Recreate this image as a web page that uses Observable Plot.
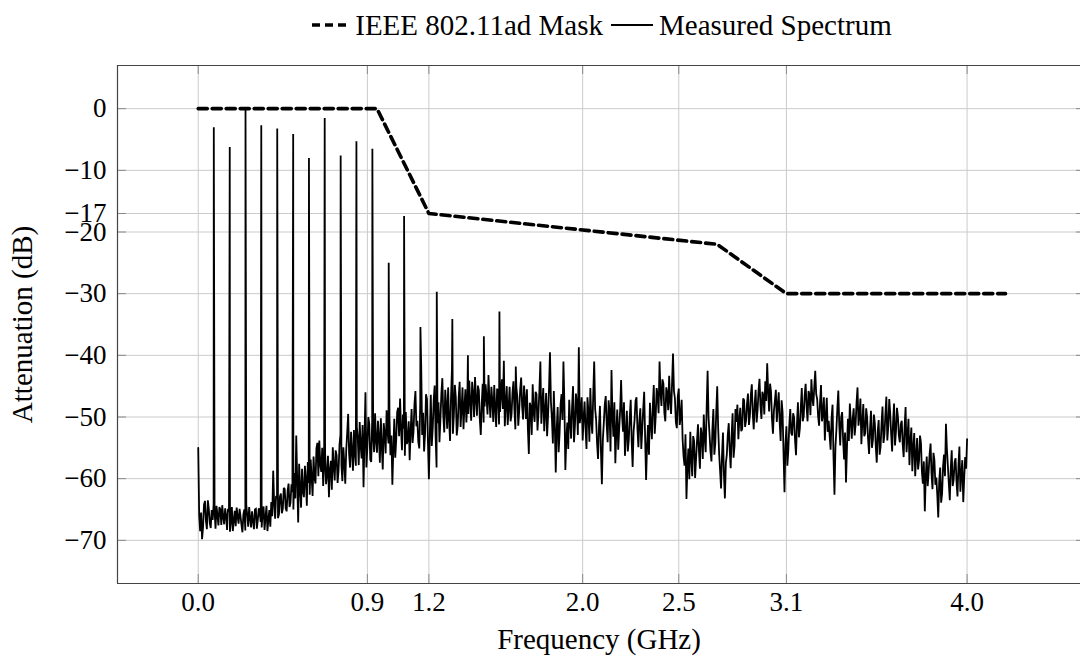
<!DOCTYPE html>
<html>
<head>
<meta charset="utf-8">
<script src="https://cdn.jsdelivr.net/npm/d3@7"></script>
<script src="https://cdn.jsdelivr.net/npm/@observablehq/plot@0.6"></script>
<style>
  html, body { margin: 0; padding: 0; background: #fff; overflow: hidden; }
  body { font-family: "Liberation Serif", "Times New Roman", serif; color: #000; }
  #legend { width: 1080px; height: 50px; box-sizing: border-box; padding-left: 124px;
            display: flex; align-items: center; justify-content: center; font-size: 29px; }
  #legend .item { display: flex; align-items: center; }
  #legend svg { display: block; }
  #chart svg { display: block; }
</style>
</head>
<body>
<div id="legend"></div>
<div id="chart"></div>
<script>
// ---------------- data ----------------
const seriesNames = ["IEEE 802.11ad Mask", "Measured Spectrum"];

// IEEE 802.11ad spectral mask (GHz, dB)
const maskFreq = [0, 0.93, 1.2, 2.7, 3.06, 4.2];
const maskDb   = [0, 0, -17, -22, -30, -30];

// measured spectrum, noise floor at 0.00, 0.01, ... 4.00 GHz
const spectrumStartGHz = 0;
const spectrumStepGHz = 0.01;
const spectrumDb = [
  -55.0, -68.5, -69.8, -64.2, -66.8, -63.5, -67.2, -65.1, -64.3, -68.1, -65.9, -64.6, -67.5, -66.2, -64.8, -68.3, -65.4, -66.9, -68.5, -65.2,
  -64.7, -67.3, -66.1, -68.7, -65.0, -64.2, -67.8, -66.4, -65.3, -68.2, -64.9, -66.7, -65.5, -67.9, -64.5, -66.3, -68.5, -65.1, -63.8, -58.7,
  -66.5, -63.2, -65.8, -62.4, -64.9, -61.7, -65.3, -60.8, -63.9, -62.2, -59.1, -53.0, -67.1, -61.5, -58.4, -63.0, -60.2, -57.3, -62.6, -59.8,
  -56.4, -60.8, -54.2, -53.8, -58.9, -61.2, -55.7, -59.4, -63.0, -57.1, -54.9, -60.3, -56.2, -58.7, -52.8, -60.4, -57.5, -55.3, -49.5, -58.2,
  -55.6, -52.1, -57.9, -53.4, -50.8, -56.7, -61.4, -46.0, -54.8, -51.2, -57.3, -52.6, -49.4, -55.8, -53.1, -50.2, -58.5, -52.7, -48.9, -54.3,
  -56.2, -61.0, -50.3, -53.7, -48.5, -47.0, -55.4, -51.9, -49.2, -53.8, -57.0, -48.7, -52.4, -45.8, -50.6, -55.1, -41.6, -49.3, -52.8, -47.1,
  -60.1, -46.4, -51.8, -44.9, -58.2, -47.6, -50.3, -43.7, -52.5, -48.1, -45.2, -53.9, -42.2, -49.6, -46.8, -51.4, -44.3, -48.7, -52.0, -45.5,
  -47.3, -44.1, -50.6, -46.2, -43.5, -49.8, -45.7, -52.9, -44.6, -48.3, -46.9, -43.2, -50.1, -47.4, -44.8, -51.6, -46.0, -49.2, -43.9, -40.9,
  -47.8, -51.3, -45.1, -49.6, -44.2, -52.0, -46.7, -48.9, -43.6, -50.4, -47.1, -45.5, -56.0, -48.3, -44.7, -50.8, -46.3, -49.4, -41.0, -47.9,
  -52.3, -46.1, -49.7, -39.5, -50.2, -45.8, -59.0, -48.4, -52.6, -46.3, -41.0, -58.6, -50.9, -47.2, -53.5, -45.0, -51.3, -48.0, -38.7, -49.6,
  -53.8, -47.5, -55.2, -49.1, -45.3, -52.7, -41.0, -50.4, -56.8, -48.2, -60.9, -51.0, -46.6, -54.1, -49.3, -42.4, -53.2, -57.5, -48.8, -51.9,
  -44.0, -52.4, -56.3, -49.0, -53.7, -47.2, -58.1, -50.5, -46.8, -54.9, -48.6, -52.0, -45.9, -60.2, -51.3, -47.7, -53.6, -44.8, -49.9, -46.5,
  -41.0, -48.2, -44.6, -50.7, -46.1, -43.3, -49.5, -39.7, -47.0, -51.8, -45.4, -49.9, -53.6, -57.9, -63.3, -55.1, -52.4, -59.6, -54.0, -56.8,
  -51.2, -58.4, -53.0, -49.6, -55.7, -42.5, -52.8, -57.2, -48.7, -54.3, -45.0, -55.9, -61.6, -52.5, -63.2, -56.1, -51.0, -58.3, -49.4, -54.7,
  -50.8, -53.6, -48.5, -51.9, -47.3, -50.6, -46.2, -49.8, -44.7, -52.0, -45.6, -48.9, -43.8, -50.3, -46.5, -44.2, -41.3, -49.1, -45.9, -52.7,
  -47.4, -50.8, -46.0, -53.9, -49.2, -62.2, -51.5, -55.4, -48.7, -53.0, -50.1, -56.2, -47.6, -51.8, -45.3, -49.9, -44.6, -50.7, -46.4, -43.9,
  -48.2, -42.5, -47.1, -51.4, -44.8, -49.5, -53.8, -46.9, -50.6, -55.3, -48.0, -62.6, -52.1, -45.7, -54.6, -49.2, -56.9, -60.6, -50.3, -47.8,
  -53.5, -48.6, -51.2, -45.2, -49.7, -54.4, -47.9, -52.6, -50.1, -56.0, -49.0, -53.7, -51.0, -57.4, -50.5, -54.8, -48.3, -52.9, -46.7, -51.5,
  -49.4, -55.6, -47.8, -52.3, -49.9, -54.1, -50.6, -56.5, -48.4, -53.2, -57.8, -51.7, -55.0, -59.6, -53.4, -57.1, -54.2, -60.8, -65.3, -56.4,
  -58.9, -54.3, -61.7, -57.0, -59.8, -66.3, -58.2, -62.4, -56.1, -51.1, -57.9, -63.5, -55.4, -60.2, -56.7, -62.9, -54.8, -59.3, -63.8, -56.5,
  -53.6
];
// measured spectrum, noise floor at the in-between frequencies 0.005, 0.015, ... 3.995 GHz
const spectrumMidDb = [
  -66.0, -65.5, -67.9, -63.6, -68.2, -64.9, -68.0, -66.7, -65.2, -64.4, -67.6, -65.0, -64.3, -67.4, -66.0, -64.9, -68.6, -64.6, -66.8, -67.7,
  -66.2, -64.9, -67.5, -65.8, -68.4, -66.0, -64.6, -67.9, -66.8, -65.0, -68.1, -64.8, -67.0, -65.6, -68.3, -64.4, -66.6, -67.8, -66.1, -64.0,
  -62.8, -66.4, -62.9, -65.6, -61.5, -64.8, -62.0, -64.6, -60.9, -65.0, -63.2, -60.4, -57.6, -64.7, -62.1, -57.9, -64.4, -60.7, -56.9, -62.8,
  -59.9, -55.1, -59.6, -57.7, -55.0, -57.4, -60.9, -56.3, -58.6, -61.8, -58.0, -55.4, -60.7, -54.5, -57.8, -54.9, -60.8, -52.6, -56.0, -52.4,
  -58.7, -55.9, -51.6, -57.8, -54.6, -51.3, -53.5, -58.2, -50.0, -56.9, -50.4, -55.7, -53.9, -50.6, -57.4, -54.8, -51.0, -55.9, -52.4, -50.1,
  -53.0, -55.3, -56.6, -49.2, -53.1, -51.8, -49.6, -56.3, -54.4, -50.7, -52.3, -54.2, -47.9, -51.5, -54.0, -47.8, -52.9, -55.6, -46.3, -53.9,
  -52.6, -54.7, -47.3, -53.2, -51.0, -54.1, -46.2, -49.8, -45.6, -51.9, -50.3, -47.0, -52.7, -44.8, -53.0, -46.9, -51.6, -45.2, -48.3, -50.9,
  -49.5, -47.6, -44.3, -50.0, -47.1, -44.9, -50.4, -47.8, -50.9, -44.7, -49.6, -47.3, -45.1, -50.8, -48.6, -45.4, -51.2, -46.5, -48.7, -51.5,
  -45.0, -48.4, -50.7, -46.0, -48.8, -45.2, -51.4, -45.5, -48.2, -44.9, -50.3, -51.9, -47.7, -52.9, -49.1, -45.9, -52.2, -45.6, -51.1, -45.3,
  -49.0, -53.1, -45.4, -47.6, -54.3, -51.2, -52.0, -55.7, -48.0, -50.5, -47.9, -53.6, -55.2, -50.8, -48.3, -54.1, -46.2, -52.9, -51.0, -46.8,
  -50.2, -51.9, -46.8, -54.0, -50.6, -46.4, -48.7, -54.3, -51.5, -55.4, -53.7, -48.0, -51.2, -47.3, -55.6, -49.9, -47.6, -52.4, -55.3, -48.9,
  -49.7, -47.6, -52.8, -55.6, -50.0, -53.9, -52.3, -47.4, -51.9, -50.6, -55.2, -48.7, -53.4, -54.6, -56.1, -51.0, -48.2, -52.7, -45.3, -49.4,
  -46.0, -43.9, -49.3, -45.2, -48.9, -47.4, -44.6, -45.8, -50.9, -46.6, -51.3, -47.2, -56.4, -52.8, -58.0, -60.1, -56.7, -53.1, -59.9, -53.8,
  -55.5, -51.7, -56.8, -53.4, -48.6, -50.1, -55.6, -52.0, -56.1, -49.2, -51.8, -58.7, -56.2, -59.4, -57.5, -52.9, -55.4, -53.0, -56.6, -48.7,
  -48.0, -50.4, -52.3, -47.0, -51.6, -47.9, -51.3, -46.4, -49.5, -47.8, -50.9, -45.7, -48.2, -45.9, -49.6, -47.4, -45.8, -44.6, -50.3, -49.0,
  -45.6, -48.1, -50.9, -47.3, -55.8, -54.6, -57.9, -51.3, -52.6, -49.4, -53.8, -51.0, -53.3, -48.4, -50.7, -46.5, -48.3, -45.8, -49.7, -46.9,
  -45.1, -46.3, -49.9, -47.6, -50.7, -46.8, -49.9, -52.4, -53.1, -50.2, -56.4, -54.9, -48.6, -51.3, -50.0, -53.7, -52.5, -55.1, -53.9, -50.7,
  -50.2, -53.0, -47.6, -51.4, -47.0, -50.8, -53.1, -48.6, -53.7, -51.9, -55.0, -49.6, -54.8, -52.3, -56.1, -51.0, -54.2, -49.5, -53.8, -47.1,
  -52.8, -50.7, -54.6, -48.5, -53.0, -51.2, -54.4, -51.6, -55.7, -50.3, -54.0, -58.8, -52.6, -56.3, -58.5, -53.0, -58.9, -57.2, -59.7, -61.2,
  -56.0, -59.2, -55.8, -61.0, -62.7, -60.4, -63.9, -58.0, -59.6, -55.2, -60.8, -58.3, -61.2, -57.3, -60.5, -57.9, -62.1, -57.0, -59.9, -58.4
];

// harmonic spurs of the measured spectrum (GHz, dB)
const spurFreq = [0.081, 0.164, 0.246, 0.328, 0.411, 0.494, 0.576, 0.658, 0.741, 0.823,
                  0.906, 0.991, 1.071, 1.156, 1.241, 1.322, 1.403, 1.486, 1.567, 1.652];
const spurDb   = [-3.0, -6.2, 0.0, -2.7, -3.2, -4.1, -8.0, -1.5, -7.6, -5.3,
                  -6.5, -25.0, -17.4, -35.4, -29.7, -34.1, -40.0, -36.9, -32.9, -41.8];

// axes
const xTicks = [0, 0.88, 1.2, 2.0, 2.5, 3.06, 4.0];
const xTickLabels = ["0.0", "0.9", "1.2", "2.0", "2.5", "3.1", "4.0"];
const yTicks = [0, -10, -17, -20, -30, -40, -50, -60, -70];
const xDomain = [-0.42, 4.59];
const yDomain = [-77, 7];
const xLabel = "Frequency (GHz)";
const yLabel = "Attenuation (dB)";

// ---------------- tables ----------------
const mask = maskFreq.map((f, i) => ({f, db: maskDb[i]}));
const spectrum = spectrumDb
  .map((db, i) => ({f: +(spectrumStartGHz + i * spectrumStepGHz).toFixed(3), db}))
  .concat(spectrumMidDb.map((db, i) => ({f: +(spectrumStartGHz + (i + 0.5) * spectrumStepGHz).toFixed(4), db})))
  .concat(spurFreq.map((f, i) => ({f, db: spurDb[i]})))
  .sort((a, b) => a.f - b.f);
const xLabelOf = new Map(xTicks.map((t, i) => [t, xTickLabels[i]]));

// ---------------- legend ----------------
const legend = document.getElementById("legend");
legend.innerHTML = `
  <div class="item">
    <svg width="34" height="12"><line x1="0" x2="34" y1="6" y2="6" stroke="#000" stroke-width="3.6" stroke-dasharray="8,5"/></svg>
    <span style="margin-left:9px">${seriesNames[0]}</span>
  </div>
  <div class="item" style="margin-left:8px">
    <svg width="42" height="12"><line x1="0" x2="42" y1="6" y2="6" stroke="#000" stroke-width="1.8"/></svg>
    <span style="margin-left:6px">${seriesNames[1]}</span>
  </div>`;

// ---------------- chart ----------------
const W = 1080, H = 606, mL = 117, mR = 0, mT = 15, mB = 73;
const innerW = W - mL - mR, innerH = H - mT - mB;
const gridColor = "#cbcbcb", tickColor = "#8a8a8a", axisColor = "#444";
const font = '"Liberation Serif", "Times New Roman", serif';

const chart = Plot.plot({
  width: W,
  height: H,
  marginLeft: mL,
  marginRight: mR,
  marginTop: mT,
  marginBottom: mB,
  style: {fontFamily: font, fontSize: "27px", color: "#000", background: "#fff"},
  x: {domain: xDomain},
  y: {domain: yDomain},
  marks: [
    Plot.gridX(xTicks, {stroke: gridColor, strokeOpacity: 1, strokeWidth: 1}),
    Plot.gridY(yTicks, {stroke: gridColor, strokeOpacity: 1, strokeWidth: 1}),
    // inward tick marks (left, right, bottom, top)
    Plot.tickY(yTicks, {y: d => d, stroke: tickColor, insetRight: innerW - 9}),
    Plot.tickY(yTicks, {y: d => d, stroke: tickColor, insetLeft: innerW - 4}),
    Plot.tickX(xTicks, {x: d => d, stroke: tickColor, insetTop: innerH - 9}),
    Plot.tickX(xTicks, {x: d => d, stroke: tickColor, insetBottom: innerH - 9}),
    Plot.line(spectrum, {x: "f", y: "db", stroke: "#000", strokeWidth: 1.8, strokeLinejoin: "miter", strokeMiterlimit: 2}),
    Plot.line(mask, {x: "f", y: "db", stroke: "#000", strokeWidth: 3.6, strokeDasharray: "9,5"}),
    // axis box (its right side falls outside the picture)
    Plot.ruleX([xDomain[0]], {stroke: axisColor, strokeWidth: 1.2}),
    Plot.ruleY([yDomain[0], yDomain[1]], {stroke: axisColor, strokeWidth: 1.2}),
    Plot.axisX({ticks: xTicks, tickFormat: d => xLabelOf.get(d), tickSize: 0, tickPadding: 8, fontSize: 27,
                label: null}),
    Plot.axisX({ticks: [], label: xLabel, labelAnchor: "center", labelOffset: 65, labelArrow: "none",
                fontSize: 29, tickSize: 0}),
    Plot.axisY({ticks: yTicks, tickFormat: d => (d < 0 ? "\u2212" + Math.abs(d) : String(d)), tickSize: 0, tickPadding: 11, fontSize: 27,
                label: null}),
    Plot.axisY({ticks: [], label: yLabel, labelAnchor: "center", labelOffset: 106, labelArrow: "none",
                fontSize: 29, tickSize: 0})
  ]
});
document.getElementById("chart").appendChild(chart);
</script>
</body>
</html>
